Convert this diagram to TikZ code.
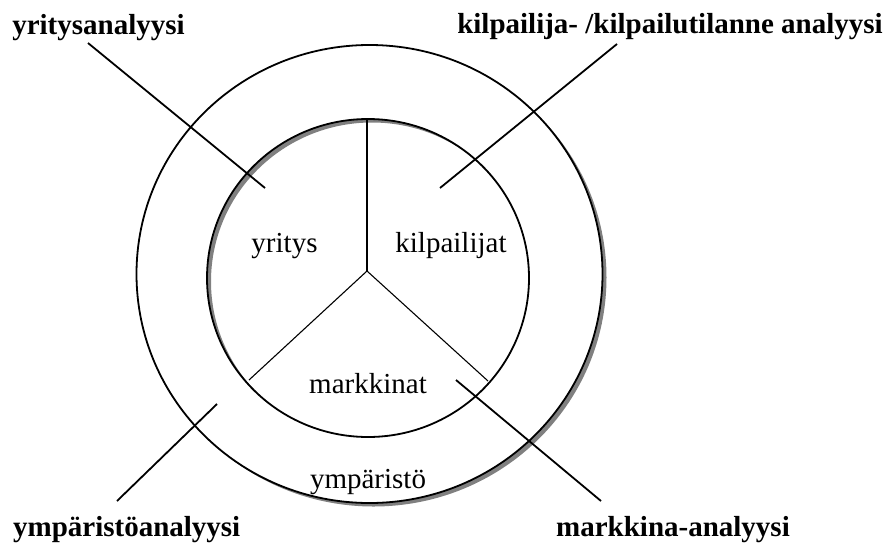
\documentclass[tikz,border=0pt]{standalone}
\usepackage{fontspec}
\setmainfont{Liberation Serif}
\begin{document}
\begin{tikzpicture}[x=1pt,y=-1pt,
  lbl/.style={font=\fontsize{29}{32}\selectfont\bfseries, inner sep=0pt, anchor=base},
  area/.style={font=\fontsize{29}{32}\selectfont, inner sep=0pt, anchor=base},
  conn/.style={line width=1.8pt},
  spoke/.style={line width=1.1pt},
  ring/.style={line width=1.8pt},
  shadowcol/.style={fill=black!50}]
\useasboundingbox (0,0) rectangle (894,544);
% shadow of the ring
\fill[shadowcol, even odd rule] (373.5,277.5) ellipse [x radius=233, y radius=229]
                                (372,281.5) ellipse [x radius=161, y radius=159];
% ring
\fill[white, even odd rule] (369.5,274) ellipse [x radius=233, y radius=229]
                            (368,278) ellipse [x radius=161, y radius=159];
\draw[ring] (369.5,274) ellipse [x radius=233, y radius=229];
\draw[ring] (368,278) ellipse [x radius=161, y radius=159];
% spokes
\coordinate (c) at (367,271);
\coordinate (s1) at (367,120);
\coordinate (s2) at (249,380);
\coordinate (s3) at (488,381);
\draw[spoke] (c) -- (s1);
\draw[spoke] (c) -- (s2);
\draw[spoke] (c) -- (s3);
% area texts
\node[area] (yritys) at (284.5,252) {yritys};
\node[area] (kilp) at (451,252) {kilpailijat};
\node[area] (mark) at (368,393) {markkinat};
\node[area] (ymp) at (368,488) {ympäristö};
% labels
\node[lbl] (l1) at (98.5,34) {yritysanalyysi};
\node[lbl] (l2) at (670,33) {kilpailija- /kilpailutilanne analyysi};
\node[lbl] (l3) at (126.7,536.5) {ympäristöanalyysi};
\node[lbl] (l4) at (673,536.5) {markkina-analyysi};
% connectors
\coordinate (a1) at (88,43);   \coordinate (a2) at (265,188);
\coordinate (b1) at (617,44);  \coordinate (b2) at (440,188);
\coordinate (d1) at (117,501); \coordinate (d2) at (217,404);
\coordinate (e1) at (601,501); \coordinate (e2) at (456,380);
\draw[conn] (a1) -- (a2);
\draw[conn] (b1) -- (b2);
\draw[conn] (d1) -- (d2);
\draw[conn] (e1) -- (e2);
\end{tikzpicture}
\end{document}
